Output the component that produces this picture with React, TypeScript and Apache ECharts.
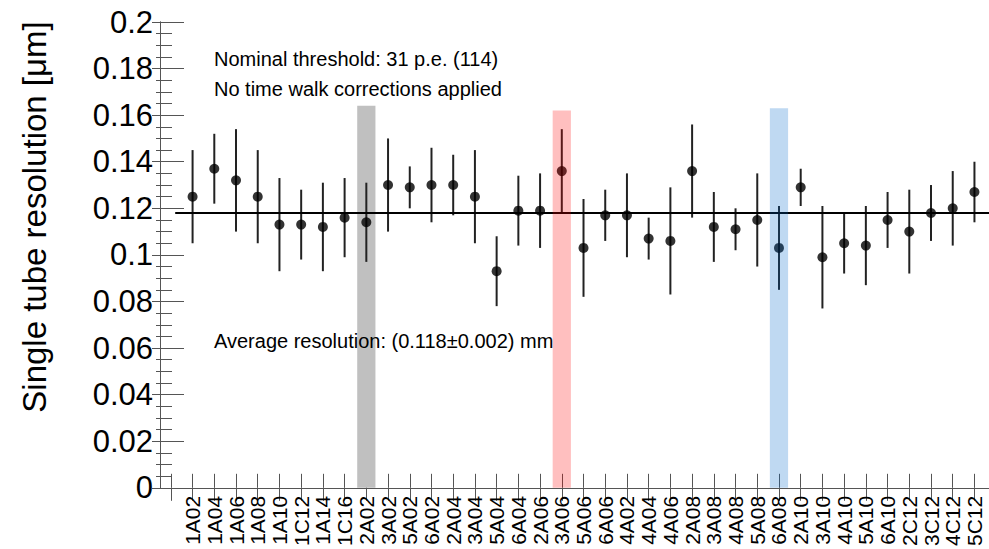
import React, { useEffect, useRef } from "react";
import * as echarts from "echarts";

const categories = [
  "1A02", "1A04", "1A06", "1A08", "1A10", "1C12", "1A14", "1C16", "2A02",
  "3A02", "5A02", "6A02", "2A04", "3A04", "5A04", "6A04", "2A06", "3A06",
  "5A06", "6A06", "4A02", "4A04", "4A06", "2A08", "3A08", "4A08", "5A08",
  "6A08", "2A10", "3A10", "4A10", "5A10", "6A10", "2C12", "3C12", "4C12", "5C12",
];

const values = [
  0.125, 0.137, 0.132, 0.125, 0.113, 0.113, 0.112, 0.116, 0.114,
  0.130, 0.129, 0.130, 0.130, 0.125, 0.093, 0.119, 0.119, 0.136,
  0.103, 0.117, 0.117, 0.107, 0.106, 0.136, 0.112, 0.111, 0.115,
  0.103, 0.129, 0.099, 0.105, 0.104, 0.115, 0.110, 0.118, 0.120, 0.127,
];

const upper = [
  0.145, 0.152, 0.154, 0.145, 0.133, 0.128, 0.131, 0.133, 0.131,
  0.150, 0.138, 0.146, 0.143, 0.145, 0.108, 0.134, 0.135, 0.154,
  0.124, 0.128, 0.135, 0.116, 0.129, 0.156, 0.127, 0.120, 0.135,
  0.121, 0.137, 0.121, 0.118, 0.121, 0.127, 0.128, 0.130, 0.136, 0.140,
];

const lower = [
  0.105, 0.122, 0.110, 0.105, 0.093, 0.098, 0.093, 0.099, 0.097,
  0.110, 0.120, 0.114, 0.117, 0.105, 0.078, 0.104, 0.103, 0.118,
  0.082, 0.106, 0.099, 0.098, 0.083, 0.116, 0.097, 0.102, 0.095,
  0.085, 0.121, 0.077, 0.092, 0.087, 0.103, 0.092, 0.106, 0.104, 0.114,
];

const fitValue = 0.118;
const fitRange = [0.7, 38.17];

const bandLabels = ["2A02", "3A06", "6A08"];
const bandTops = [0.164, 0.162, 0.163];

const yAxisTitle = "Single tube resolution [μm]";
const noteLines = [
  "Nominal threshold: 31 p.e. (114)",
  "No time walk corrections applied",
  "Average resolution: (0.118±0.002) mm",
];

// styles (not data)
const FONT = "'Liberation Sans', Arial, Helvetica, sans-serif";
const AXIS_COLOR = "#555";
const bandStyles = [
  { fill: "#c0c0c0", z: 1 },
  { fill: "rgba(255,0,0,0.25)", z: 10 },
  { fill: "rgba(0,102,204,0.25)", z: 10 },
];
const X_OFFSET = 1.5;
const BAND_HALF = 0.42;

export default function App() {
  const ref = useRef<HTMLDivElement | null>(null);

  useEffect(() => {
    if (!ref.current) return;
    const chart = echarts.init(ref.current, undefined, { renderer: "svg" });

    const tickValues: number[] = [];
    for (let i = 0; i <= categories.length; i++) tickValues.push(i + 0.5);
    const labelValues = categories.map((_, i) => i + X_OFFSET);

    const bandSeries = bandLabels.map((lab, bi) => {
      const idx = categories.indexOf(lab);
      return {
        type: "custom",
        z: bandStyles[bi].z,
        xAxisIndex: 0,
        yAxisIndex: 0,
        silent: true,
        data: [[idx + X_OFFSET, bandTops[bi]]],
        encode: { x: 0, y: 1 },
        renderItem: (params: any, api: any) => {
          const x = api.value(0);
          const top = api.value(1);
          const tl = api.coord([x - BAND_HALF, top]);
          const br = api.coord([x + BAND_HALF, 0]);
          return {
            type: "rect",
            shape: { x: tl[0], y: tl[1], width: br[0] - tl[0], height: br[1] - tl[1] },
            style: { fill: bandStyles[bi].fill },
          };
        },
      };
    });

    const option: any = {
      animation: false,
      backgroundColor: "#fff",
      grid: { left: 160, top: 22, right: 0, bottom: 59, containLabel: false },
      xAxis: [
        {
          type: "value",
          position: "bottom",
          min: 0,
          max: fitRange[1],
          axisLine: { show: true, lineStyle: { color: AXIS_COLOR, width: 1 } },
          splitLine: { show: false },
          axisTick: {
            show: true,
            inside: true,
            length: 14,
            customValues: tickValues,
            lineStyle: { color: AXIS_COLOR, width: 1 },
          },
          axisLabel: {
            show: true,
            customValues: labelValues,
            rotate: 90,
            margin: 8,
            fontSize: 21,
            fontFamily: FONT,
            color: "#000",
            formatter: (v: number) => categories[Math.round(v - X_OFFSET)] ?? "",
          },
        },
        {
          type: "value",
          position: "top",
          min: 0,
          max: fitRange[1],
          axisLine: { show: true, lineStyle: { color: AXIS_COLOR, width: 1 } },
          splitLine: { show: false },
          axisTick: {
            show: true,
            inside: true,
            length: 13,
            customValues: tickValues,
            lineStyle: { color: AXIS_COLOR, width: 1 },
          },
          axisLabel: { show: false },
        },
      ],
      yAxis: [
        {
          type: "value",
          position: "left",
          min: 0,
          max: 0.2,
          interval: 0.02,
          axisLine: { show: true, lineStyle: { color: AXIS_COLOR, width: 1 } },
          splitLine: { show: false },
          axisTick: { show: true, inside: true, length: 24, lineStyle: { color: AXIS_COLOR, width: 1 } },
          minorTick: { show: true, splitNumber: 4, length: 12, lineStyle: { color: AXIS_COLOR, width: 1 } },
          minorSplitLine: { show: false },
          axisLabel: {
            show: true,
            fontSize: 31,
            fontFamily: FONT,
            color: "#000",
            margin: 7,
            formatter: (v: number) => String(parseFloat(v.toFixed(3))),
          },
        },
        {
          type: "value",
          position: "right",
          min: 0,
          max: 0.2,
          interval: 0.02,
          axisLine: { show: true, lineStyle: { color: AXIS_COLOR, width: 1 } },
          splitLine: { show: false },
          axisTick: { show: true, inside: true, length: 8, lineStyle: { color: AXIS_COLOR, width: 1 } },
          minorTick: { show: true, splitNumber: 4, length: 4, lineStyle: { color: AXIS_COLOR, width: 1 } },
          axisLabel: { show: false },
        },
      ],
      series: [
        ...bandSeries,
        {
          type: "custom",
          z: 3,
          xAxisIndex: 0,
          yAxisIndex: 0,
          silent: true,
          data: categories.map((_, i) => [i + X_OFFSET, lower[i], upper[i]]),
          encode: { x: 0, y: [1, 2] },
          renderItem: (params: any, api: any) => {
            const x = api.value(0);
            const p1 = api.coord([x, api.value(1)]);
            const p2 = api.coord([x, api.value(2)]);
            return {
              type: "line",
              shape: { x1: p1[0], y1: p1[1], x2: p2[0], y2: p2[1] },
              style: { stroke: "#222", lineWidth: 2 },
            };
          },
        },
        {
          type: "line",
          z: 4,
          xAxisIndex: 0,
          yAxisIndex: 0,
          silent: true,
          symbol: "none",
          data: [
            [fitRange[0], fitValue],
            [fitRange[1], fitValue],
          ],
          lineStyle: { color: "#000", width: 2 },
        },
        {
          type: "scatter",
          z: 5,
          xAxisIndex: 0,
          yAxisIndex: 0,
          silent: true,
          symbol: "circle",
          symbolSize: 10,
          itemStyle: { color: "#000" },
          data: categories.map((_, i) => [i + X_OFFSET, values[i]]),
        },
      ],
      graphic: [
        {
          type: "text",
          x: 34,
          y: 217,
          rotation: Math.PI / 2,
          style: {
            text: yAxisTitle,
            fontSize: 33,
            fontFamily: FONT,
            fill: "#000",
            align: "center",
            verticalAlign: "middle",
            textAlign: "center",
            textVerticalAlign: "middle",
          },
        },
        ...[59, 89, 341].map((y, i) => ({
          type: "text",
          x: 214,
          y,
          z: 20,
          style: {
            text: noteLines[i],
            fontSize: 20,
            fontFamily: FONT,
            fill: "#000",
            align: "left",
            verticalAlign: "middle",
            textAlign: "left",
            textVerticalAlign: "middle",
          },
        })),
      ],
    };

    chart.setOption(option);
    return () => chart.dispose();
  }, []);

  return (
    <div
      ref={ref}
      style={{ position: "absolute", left: 0, top: 0, width: 989, height: 549, background: "#fff" }}
    />
  );
}
